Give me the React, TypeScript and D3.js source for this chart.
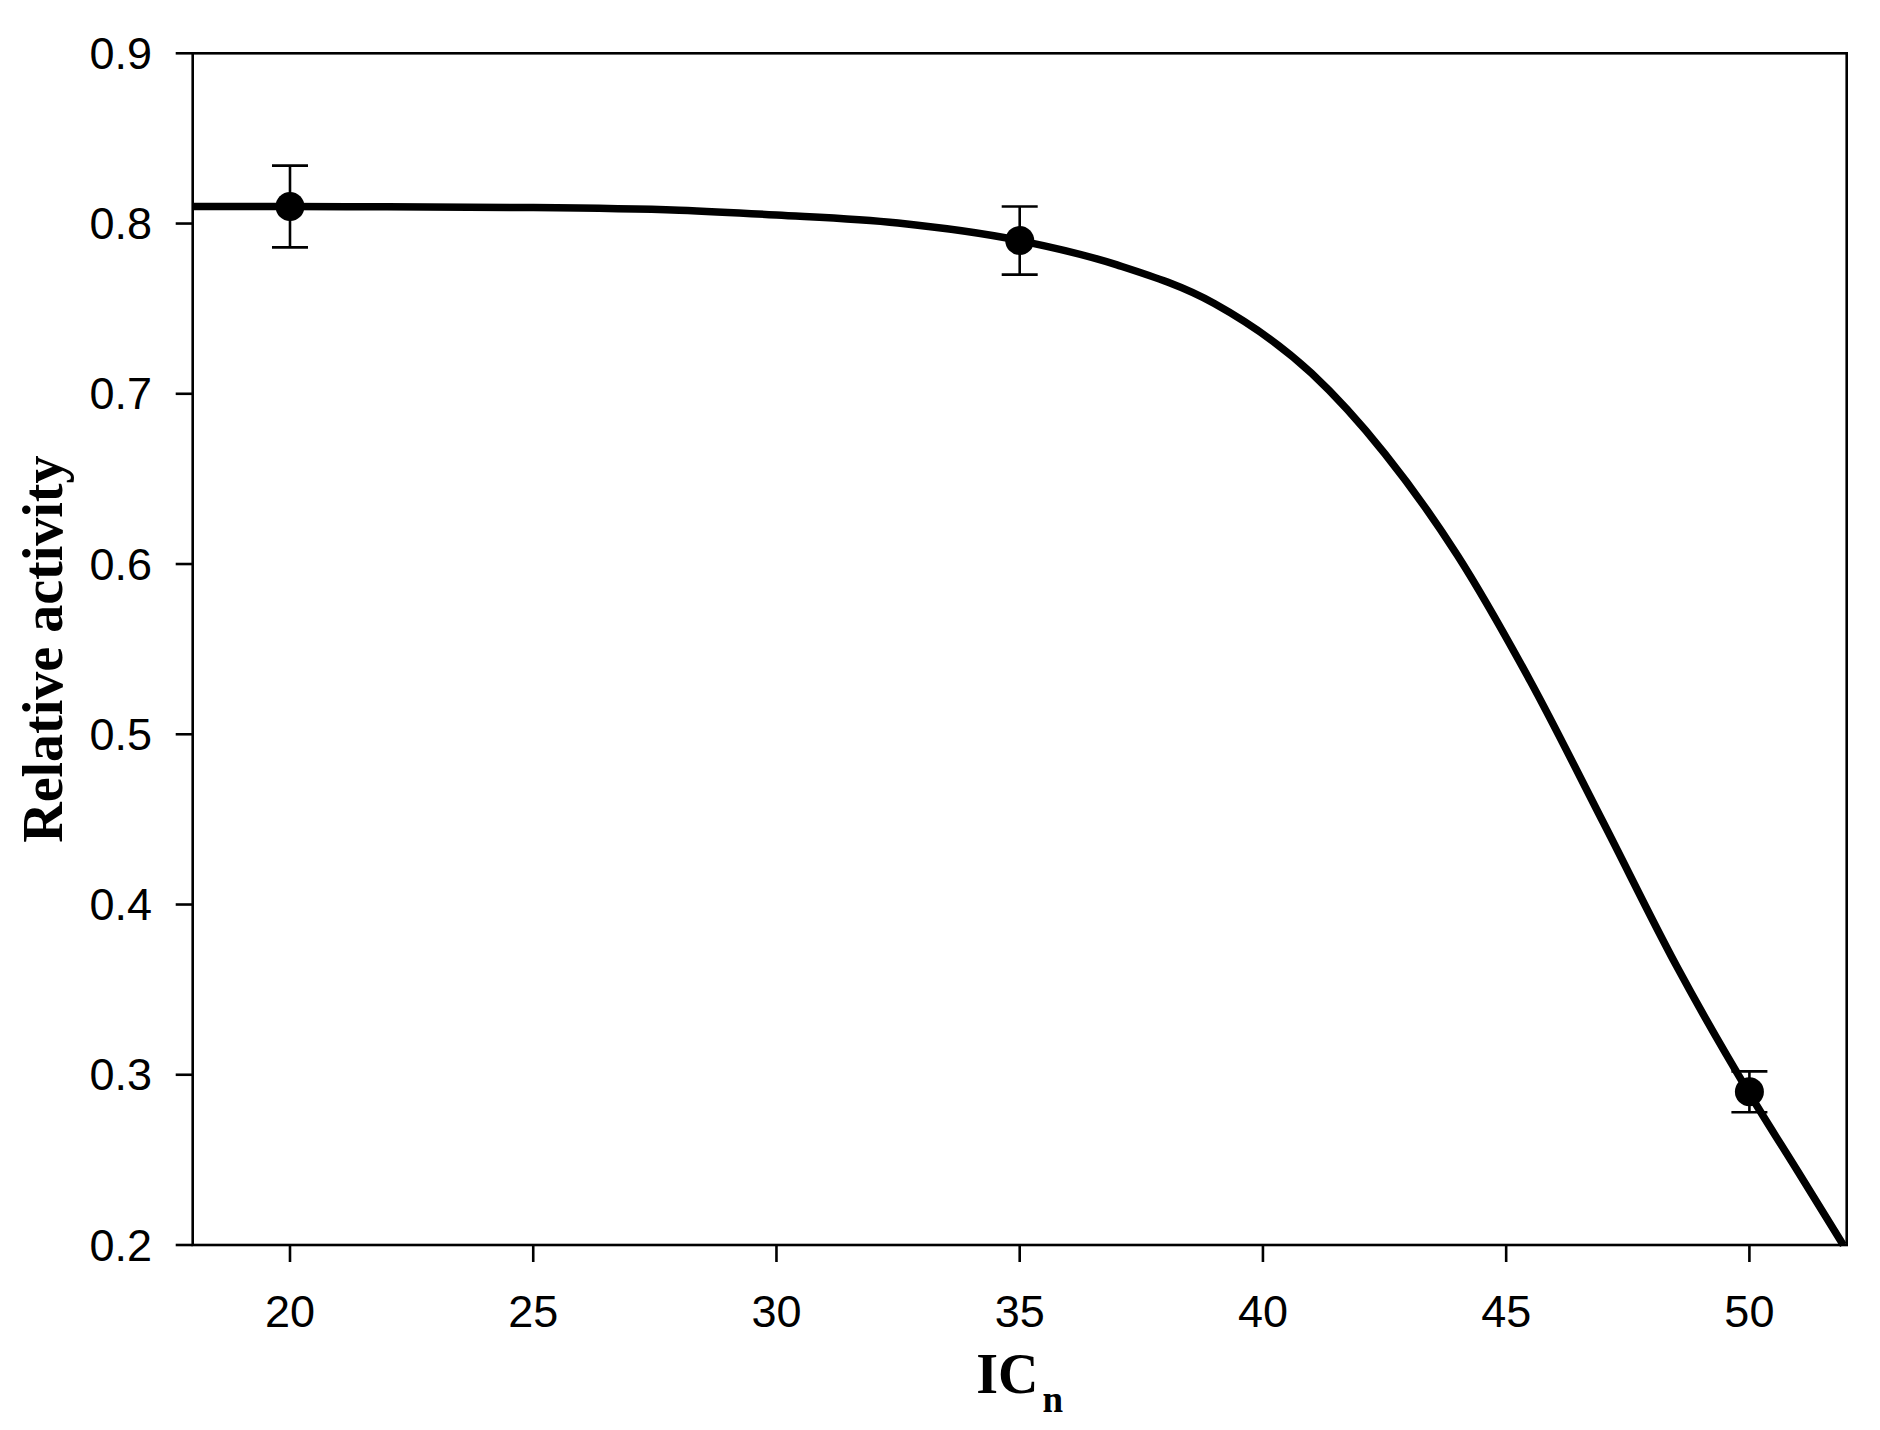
import React from "react";
import * as d3 from "d3";

const xTicks = [20, 25, 30, 35, 40, 45, 50];
const yTicks = [0.2, 0.3, 0.4, 0.5, 0.6, 0.7, 0.8, 0.9];

const pointX = [20, 35, 50];
const pointY = [0.81, 0.79, 0.29];
const pointErr = [0.024, 0.02, 0.012];

const curveX = [18, 20, 22, 25, 28, 30, 32.5, 35, 37, 39, 41, 42.5, 44, 45.5, 47, 48.5, 50, 51, 51.93];
const curveY = [0.81, 0.81, 0.8098, 0.8094, 0.8078, 0.805, 0.8003, 0.79, 0.7757, 0.753, 0.712, 0.665, 0.605, 0.531, 0.448, 0.364, 0.289, 0.243, 0.2];

const W = 1880;
const H = 1430;
const L = 192.7, R = 1846.7, T = 53.3, B = 1245;

export default function App() {
  const x = d3.scaleLinear().domain([18, 52]).range([L, R]);
  const y = d3.scaleLinear().domain([0.2, 0.9]).range([B, T]);
  const line = d3
    .line<number>()
    .x((_, i) => x(curveX[i]))
    .y((d) => y(d))
    .curve(d3.curveMonotoneX);
  const path = line(curveY) || "";
  const tickLen = 17;
  const sans = "'Liberation Sans', Arial, sans-serif";
  const serif = "'Liberation Serif', 'Times New Roman', serif";
  return (
    <svg
      width={W}
      height={H}
      style={{ position: "absolute", left: 0, top: 0, background: "#fff" }}
    >
      <rect x={0} y={0} width={W} height={H} fill="#fff" />
      <defs>
        <clipPath id="plotclip">
          <rect x={L - 4} y={T} width={R - L + 4} height={B - T + 2} />
        </clipPath>
      </defs>
      <rect x={L} y={T} width={R - L} height={B - T} fill="none" stroke="#000" strokeWidth={2.6} />
      {yTicks.map((t) => (
        <g key={"y" + t}>
          <line x1={L - tickLen} x2={L} y1={y(t)} y2={y(t)} stroke="#000" strokeWidth={2.6} />
          <text
            x={152}
            y={y(t)}
            textAnchor="end"
            dominantBaseline="central"
            fontFamily={sans}
            fontSize={45}
            fill="#000"
          >
            {d3.format(".1f")(t)}
          </text>
        </g>
      ))}
      {xTicks.map((t) => (
        <g key={"x" + t}>
          <line x1={x(t)} x2={x(t)} y1={B} y2={B + tickLen} stroke="#000" strokeWidth={2.6} />
          <text
            x={x(t)}
            y={1327}
            textAnchor="middle"
            fontFamily={sans}
            fontSize={45}
            fill="#000"
          >
            {t}
          </text>
        </g>
      ))}
      <path d={path} fill="none" stroke="#000" strokeWidth={7.5} clipPath="url(#plotclip)" />
      {pointX.map((px, i) => {
        const cx = x(px);
        const top = y(pointY[i] + pointErr[i]);
        const bot = y(pointY[i] - pointErr[i]);
        return (
          <g key={"p" + i}>
            <line x1={cx} x2={cx} y1={top} y2={bot} stroke="#000" strokeWidth={2.6} />
            <line x1={cx - 18} x2={cx + 18} y1={top} y2={top} stroke="#000" strokeWidth={2.6} />
            <line x1={cx - 18} x2={cx + 18} y1={bot} y2={bot} stroke="#000" strokeWidth={2.6} />
            <circle cx={cx} cy={y(pointY[i])} r={14.5} fill="#000" />
          </g>
        );
      })}
      <text
        x={(L + R) / 2}
        y={1393}
        textAnchor="middle"
        fontFamily={serif}
        fontWeight="bold"
        fontSize={56}
        fill="#000"
      >
        IC
        <tspan fontSize={37} dy={19} dx={4}>n</tspan>
      </text>
      <text
        transform={`translate(62, ${(T + B) / 2}) rotate(-90)`}
        textAnchor="middle"
        fontFamily={serif}
        fontWeight="bold"
        fontSize={56}
        fill="#000"
      >
        Relative activity
      </text>
    </svg>
  );
}
